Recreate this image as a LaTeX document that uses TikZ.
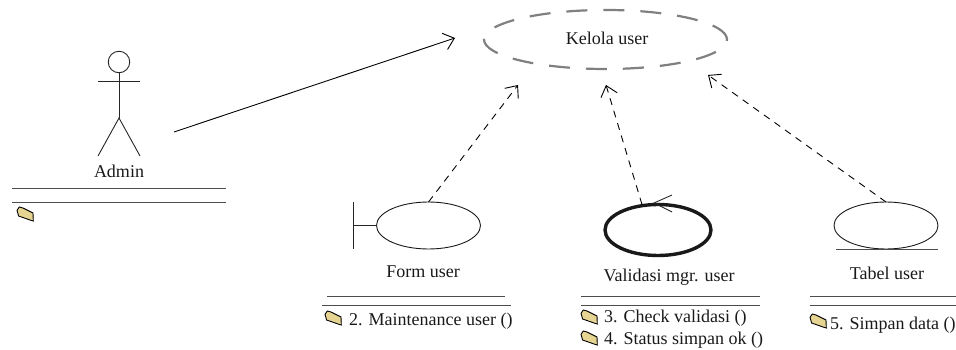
\documentclass[tikz,border=0pt]{standalone}
\usepackage{fontspec}
\setmainfont{Liberation Serif}
\usetikzlibrary{shapes.geometric,arrows.meta}
\definecolor{foldertan}{HTML}{E6D592}
\tikzset{
  x=1pt,y=-1pt,
  lbl/.style={inner sep=0pt,font=\fontsize{18}{20}\selectfont,text=black!90},
  item/.style={lbl,anchor=west},
  cls/.style={ellipse,draw=black!90,line width=0.9pt,inner sep=0pt,outer sep=0pt,minimum width=104pt,minimum height=47pt},
  rule/.style={draw=black!70,line width=1pt},
  conn/.style={line width=0.9pt,-{Straight Barb[length=10pt,width=17pt,line width=0.9pt]}},
  dep/.style={conn,dash pattern=on 7pt off 6pt},
  stick/.style={line width=0.9pt,draw=black!85},
  pics/folder/.style={code={
    \fill[draw=black,line width=0.9pt,fill=foldertan,line join=miter]
      (0,3.3) -- (2.3,0) -- (6,1) -- (16,6) -- (16.3,14) -- (13,13) -- (1.6,9) -- cycle;
  }}
}
\begin{document}
\begin{tikzpicture}
\useasboundingbox (0,0) rectangle (956,350);
% actor
\node[circle,stick,draw,inner sep=0pt,minimum size=21.5pt] (head) at (119,62) {};
\coordinate (armL) at (98,81);
\coordinate (armR) at (140,81);
\coordinate (hip) at (119,118);
\coordinate (footL) at (98,156);
\coordinate (footR) at (140,156);
\draw[stick] (head.south) -- (hip);
\draw[stick] (armL) -- (armR);
\draw[stick] (footL) -- (hip) -- (footR);
\node[lbl] (admin) at (119,171) {Admin};
\coordinate (a1) at (12,188); \coordinate (a2) at (226,188);
\coordinate (a3) at (12,202); \coordinate (a4) at (226,202);
\draw[rule] (a1) -- (a2); \draw[rule] (a3) -- (a4);
\pic at (17,207) {folder};
% use case
\node[ellipse,lbl,draw=black!50,line width=2.2pt,dash pattern=on 21pt off 16pt,minimum width=243pt,minimum height=59pt,outer sep=0pt] (kelola) at (605.5,39.5) {};
\node[lbl] (kelolatxt) at (607,38) {Kelola user};
% form
\node[cls] (form) at (428.5,225.5) {};
\coordinate (barT) at (353,202); \coordinate (barB) at (353,249);
\draw[stick] (barT) -- (barB);
\draw[stick] (353,225.5) -- (form.west);
\node[lbl] (formtxt) at (423,272) {Form user};
\coordinate (f1) at (327,296); \coordinate (f2) at (505,296);
\coordinate (f3) at (322,305); \coordinate (f4) at (511,305);
\draw[rule] (f1) -- (f2); \draw[rule] (f3) -- (f4);
\pic at (325,311) {folder};
\node[item] (m2) at (349,321) {2. Maintenance user ()};
% control
\node[cls,line width=3.4pt,minimum width=106pt,minimum height=51pt] (valid) at (658,230) {};
\coordinate (hd) at (654,203);
\coordinate (hd1) at (672,195); \coordinate (hd2) at (672,212);
\draw[line width=0.9pt,black!85] (hd1) -- (hd) -- (hd2);
\node[lbl] (validtxt) at (669,277) {Validasi mgr. user};
\coordinate (v1) at (581,296); \coordinate (v2) at (760,296);
\coordinate (v3) at (581,305); \coordinate (v4) at (760,305);
\draw[rule] (v1) -- (v2); \draw[rule] (v3) -- (v4);
\pic at (581,310) {folder};
\pic at (581,331) {folder};
\node[item] (m3) at (604,318) {3. Check validasi ()};
\node[item] (m4) at (604,340) {4. Status simpan ok ()};
% entity
\node[cls] (tabel) at (886,225.5) {};
\coordinate (t1) at (836,249); \coordinate (t2) at (938,249);
\draw[rule] (t1) -- (t2);
\node[lbl] (tabeltxt) at (887,273) {Tabel user};
\coordinate (e1) at (810,296); \coordinate (e2) at (956,296);
\coordinate (e3) at (810,305); \coordinate (e4) at (956,305);
\draw[rule] (e1) -- (e2); \draw[rule] (e3) -- (e4);
\pic at (810,314) {folder};
\node[item] (m5) at (830,325) {5. Simpan data ()};
% connectors
\coordinate (adminOut) at (174,132);
\coordinate (tip1) at (455,38);
\coordinate (tip2) at (518,85);
\coordinate (tip3) at (606,85);
\coordinate (tip4) at (708,75);
\draw[conn] (adminOut) -- (tip1);
\draw[dep] (form.north) -- (tip2);
\draw[dep] (valid.north) ++(-16,0) -- (tip3);
\draw[dep] (tabel.north) -- (tip4);
\end{tikzpicture}
\end{document}
